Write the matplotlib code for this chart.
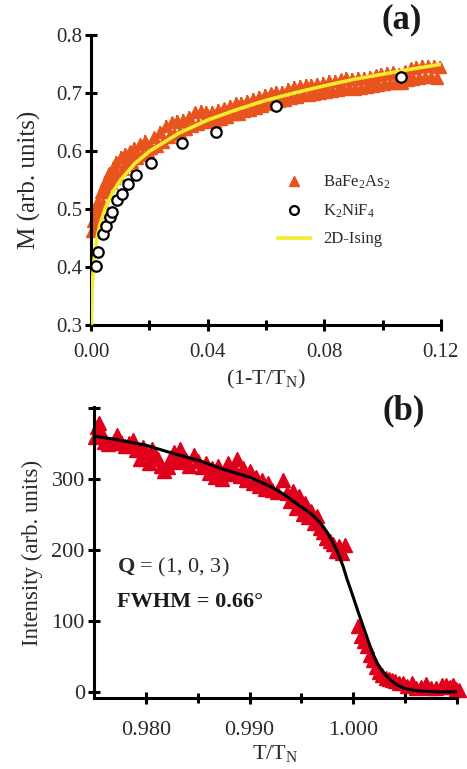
import matplotlib
matplotlib.use("Agg")
import matplotlib.pyplot as plt
from matplotlib.ticker import FixedLocator

plt.rcParams['font.family'] = ['Liberation Serif', 'DejaVu Serif']
plt.rcParams['mathtext.fontset'] = 'custom'
plt.rcParams['mathtext.rm'] = 'Liberation Serif'
plt.rcParams['mathtext.it'] = 'Liberation Serif:italic'
plt.rcParams['mathtext.bf'] = 'Liberation Serif:bold'

# ---------------- Panel (a) data ----------------
ba_x = [0.0004, 0.0008, 0.0012, 0.0016, 0.0020, 0.0025, 0.0030, 0.0035, 0.0040, 0.0045,
        0.0050, 0.0056, 0.0062, 0.0068, 0.0074, 0.0080, 0.0087, 0.0094, 0.0101, 0.0108,
        0.0116, 0.0124, 0.0132, 0.0140, 0.0149, 0.0158, 0.0167, 0.0176, 0.0186, 0.0196,
        0.0206, 0.0216, 0.0226, 0.0236, 0.0246, 0.0256, 0.0266, 0.0276, 0.0286, 0.0296,
        0.0306, 0.0316, 0.0326, 0.0336, 0.0346, 0.0356, 0.0366, 0.0376, 0.0386, 0.0396,
        0.0406, 0.0416, 0.0426, 0.0436, 0.0446, 0.0456, 0.0466, 0.0476, 0.0486, 0.0496,
        0.0506, 0.0516, 0.0526, 0.0536, 0.0546, 0.0556, 0.0566, 0.0576, 0.0586, 0.0596,
        0.0606, 0.0616, 0.0626, 0.0636, 0.0646, 0.0656, 0.0666, 0.0676, 0.0686, 0.0696,
        0.0706, 0.0716, 0.0726, 0.0736, 0.0746, 0.0756, 0.0766, 0.0776, 0.0786, 0.0796,
        0.0806, 0.0816, 0.0826, 0.0836, 0.0846, 0.0856, 0.0866, 0.0876, 0.0886, 0.0896,
        0.0906, 0.0916, 0.0926, 0.0936, 0.0946, 0.0956, 0.0966, 0.0976, 0.0986, 0.0996,
        0.1006, 0.1016, 0.1026, 0.1036, 0.1046, 0.1056, 0.1066, 0.1076, 0.1086, 0.1096,
        0.1106, 0.1116, 0.1126, 0.1136, 0.1146, 0.1156, 0.1166, 0.1176, 0.1186, 0.1196]
ba_y = [0.462, 0.480, 0.472, 0.500, 0.484, 0.514, 0.496, 0.530, 0.510, 0.542,
        0.550, 0.530, 0.562, 0.546, 0.572, 0.554, 0.582, 0.560, 0.590, 0.570,
        0.596, 0.576, 0.600, 0.582, 0.606, 0.588, 0.612, 0.594, 0.618, 0.600,
        0.606, 0.624, 0.610, 0.634, 0.616, 0.644, 0.624, 0.650, 0.630, 0.652,
        0.634, 0.654, 0.638, 0.660, 0.643, 0.667, 0.648, 0.670, 0.652, 0.668,
        0.650, 0.668, 0.653, 0.671, 0.656, 0.674, 0.660, 0.679, 0.664, 0.683,
        0.665, 0.684, 0.669, 0.687, 0.672, 0.690, 0.674, 0.694, 0.678, 0.697,
        0.681, 0.700, 0.684, 0.702, 0.686, 0.703, 0.688, 0.707, 0.692, 0.711,
        0.694, 0.713, 0.697, 0.714, 0.698, 0.715, 0.699, 0.716, 0.701, 0.718,
        0.702, 0.721, 0.704, 0.722, 0.706, 0.724, 0.708, 0.726, 0.709, 0.725,
        0.707, 0.726, 0.709, 0.727, 0.711, 0.729, 0.713, 0.731, 0.715, 0.733,
        0.716, 0.735, 0.718, 0.736, 0.717, 0.734, 0.718, 0.738, 0.723, 0.743,
        0.725, 0.745, 0.727, 0.747, 0.729, 0.748, 0.728, 0.747, 0.727, 0.745]
ba_err = 0.010

k2_x = [0.0017, 0.0025, 0.0040, 0.0051, 0.0065, 0.0071, 0.0088, 0.0105, 0.0126, 0.0154,
        0.0206, 0.0313, 0.0428, 0.0633, 0.1064]
k2_y = [0.402, 0.426, 0.458, 0.472, 0.487, 0.495, 0.516, 0.527, 0.544, 0.560,
        0.580, 0.614, 0.633, 0.679, 0.729]

ising_x = [0.00006, 0.0002, 0.0005, 0.001, 0.002, 0.003, 0.005, 0.0075, 0.010, 0.015,
           0.020, 0.030, 0.040, 0.050, 0.060, 0.070, 0.080, 0.090, 0.100, 0.110, 0.120]
ising_y = [0.300, 0.337, 0.378, 0.412, 0.450, 0.473, 0.504, 0.530, 0.550, 0.579,
           0.600, 0.631, 0.654, 0.672, 0.688, 0.701, 0.713, 0.724, 0.733, 0.742, 0.750]

a_xticks = [0.00, 0.04, 0.08, 0.12]
a_xticklabels = ['0.00', '0.04', '0.08', '0.12']
a_xminor = [0.02, 0.06, 0.10]
a_yticks = [0.3, 0.4, 0.5, 0.6, 0.7, 0.8]
a_yticklabels = ['0.3', '0.4', '0.5', '0.6', '0.7', '0.8']

# ---------------- Panel (b) data ----------------
int_x = [0.9751, 0.9753, 0.9755, 0.9757, 0.9760, 0.9764, 0.9768, 0.9772, 0.9776, 0.9780,
         0.9784, 0.9788, 0.9791, 0.9794, 0.9797, 0.9800, 0.9803, 0.9806, 0.9809, 0.9812,
         0.9815, 0.9818, 0.9821, 0.9824, 0.9827, 0.9830, 0.9833, 0.9836, 0.9839, 0.9842,
         0.9846, 0.9850, 0.9854, 0.9858, 0.9861, 0.9864, 0.9867, 0.9870, 0.9873, 0.9876,
         0.9879, 0.9882, 0.9885, 0.9888, 0.9891, 0.9894, 0.9897, 0.9900, 0.9903, 0.9906,
         0.9909, 0.9912, 0.9915, 0.9918, 0.9922, 0.9926, 0.9932, 0.9936, 0.9939, 0.9942,
         0.9945, 0.9948, 0.9951, 0.9953, 0.9956, 0.9959, 0.9962, 0.9965, 0.9968, 0.9971,
         0.9974, 0.9977, 0.9980, 0.9983, 0.9986, 0.9989, 0.9992, 1.0004, 1.0007, 1.0010,
         1.0013, 1.0016, 1.0019, 1.0022, 1.0025, 1.0028, 1.0031, 1.0034, 1.0037, 1.0040,
         1.0044, 1.0048, 1.0052, 1.0056, 1.0060, 1.0065, 1.0070, 1.0075, 1.0080, 1.0085,
         1.0089, 1.0093, 1.0096, 1.0099, 1.0102]
int_y = [358, 372, 378, 365, 352, 348, 350, 362, 352, 346,
         350, 354, 340, 328, 345, 336, 322, 342, 333, 328,
         318, 310, 316, 330, 338, 324, 342, 330, 326, 318,
         333, 325, 316, 322, 308, 315, 302, 318, 300, 312,
         322, 306, 315, 328, 304, 315, 298, 310, 294, 302,
         290, 298, 286, 294, 284, 281, 298, 280, 268, 283,
         258, 276, 250, 265, 246, 255, 238, 247, 230, 225,
         216, 212, 208, 198, 205, 195, 207, 93, 78, 72,
         65, 52, 45, 35, 28, 24, 20, 18, 16, 15,
         13, 12, 8, 12, 6, 7, 11, 5, 6, 10,
         9, 7, 10, 4, 2]
int_err = 8

fit_x = [0.9750, 0.9775, 0.9800, 0.9825, 0.9852, 0.9875, 0.9900, 0.9920, 0.9933, 0.9945,
         0.9959, 0.9968, 0.9975, 0.9980, 0.9985, 0.9990, 0.9994, 0.9999, 1.0004, 1.0009,
         1.0014, 1.0018, 1.0023, 1.0029, 1.0036, 1.0042, 1.0049, 1.0057, 1.0065, 1.0080,
         1.0100]
fit_y = [360, 354, 347, 336, 325, 313, 302, 289, 278, 265,
         251, 238, 224, 211, 196, 177, 158, 137, 115, 94,
         73, 56, 40, 27, 16, 10, 5, 2.5, 1, 0,
         0]

b_xticks = [0.980, 0.990, 1.000, 1.010]
b_xticklabels = ['0.980', '0.990', '1.000', '']
b_xminor = [0.985, 0.995, 1.005]
b_yticks = [0, 100, 200, 300, 400]
b_yticklabels = ['0', '100', '200', '300', '']

orange = '#E8541E'
yellow = '#F2EC2A'
red = '#E0001B'
txtc = '#2a2a2a'

fig = plt.figure(figsize=(4.67, 7.69), dpi=100)
ax1 = fig.add_axes([0.195, 0.577, 0.749, 0.377])
ax2 = fig.add_axes([0.201, 0.092, 0.778, 0.379])


def style(ax, fs, xpad):
    for s in ['top', 'right']:
        ax.spines[s].set_visible(False)
    for s in ['left', 'bottom']:
        ax.spines[s].set_linewidth(2.2)
        ax.spines[s].set_color('black')
    ax.tick_params(which='major', direction='inout', length=9, width=2.2,
                   labelsize=fs, labelcolor=txtc)
    ax.tick_params(which='minor', direction='inout', length=7, width=2.2)
    ax.tick_params(axis='x', which='major', pad=xpad)
    ax.tick_params(axis='y', which='major', pad=2)


# ---- Panel (a)
ax1.errorbar(ba_x, ba_y, yerr=ba_err, fmt='none', ecolor=orange, elinewidth=1.3,
             capsize=0, zorder=2, clip_on=False)
ax1.plot(ba_x, ba_y, '^', color=orange, ms=9, mec=orange, zorder=2, clip_on=False,
         label='BaFe$_2$As$_2$')
ax1.plot(k2_x, k2_y, 'o', mfc='white', mec='black', mew=1.6, ms=7.5, zorder=4,
         clip_on=False, label='K$_2$NiF$_4$')
ax1.plot(ising_x, ising_y, '-', color=yellow, lw=2.6, zorder=3, label='2D-Ising')
ax1.set_xlim(0, 0.12)
ax1.set_ylim(0.3, 0.8)
style(ax1, 15, 8.5)
ax1.xaxis.set_major_locator(FixedLocator(a_xticks))
ax1.set_xticklabels(a_xticklabels)
ax1.xaxis.set_minor_locator(FixedLocator(a_xminor))
ax1.yaxis.set_major_locator(FixedLocator(a_yticks))
ax1.set_yticklabels(a_yticklabels)
ax1.set_xlabel('(1-T/T$_\\mathrm{N}$)', fontsize=16, color=txtc, labelpad=4)
ax1.set_ylabel('M (arb. units)', fontsize=18, color=txtc, labelpad=11)
leg = ax1.legend(loc='upper left', bbox_to_anchor=(0.515, 0.545), frameon=False,
                 fontsize=12, handlelength=1.9, labelspacing=0.68, handletextpad=0.8,
                 borderaxespad=0, markerscale=0.85)
for t in leg.get_texts():
    t.set_color(txtc)
ax1.text(0.946, 1.052, '(a)', transform=ax1.transAxes, fontsize=25, fontweight='bold',
         ha='right', va='center', color='#1a1a1a')

# ---- Panel (b)
ax2.errorbar(int_x, int_y, yerr=int_err, fmt='none', ecolor=red, elinewidth=1.3,
             capsize=0, zorder=2, clip_on=False)
ax2.plot(int_x, int_y, '^', color=red, ms=9.5, mec=red, zorder=2, clip_on=False)
ax2.plot(fit_x, fit_y, '-', color='black', lw=2.2, zorder=3)
ax2.set_xlim(0.975, 1.010)
ax2.set_ylim(-9, 401)
style(ax2, 16, 12)
ax2.xaxis.set_major_locator(FixedLocator(b_xticks))
ax2.set_xticklabels(b_xticklabels)
ax2.xaxis.set_minor_locator(FixedLocator(b_xminor))
ax2.yaxis.set_major_locator(FixedLocator(b_yticks))
ax2.set_yticklabels(b_yticklabels)
ax2.set_xlabel('T/T$_\\mathrm{N}$', fontsize=16, color=txtc, labelpad=2)
ax2.set_ylabel('Intensity (arb. units)', fontsize=16.5, color=txtc, labelpad=6)
ax2.text(0.063, 0.450, '$\\mathbf{Q}$ = (1, 0, 3)', transform=ax2.transAxes, fontsize=16,
         color=txtc, ha='left', va='center')
ax2.text(0.063, 0.330, 'FWHM = 0.66°', transform=ax2.transAxes, fontsize=16,
         fontweight='bold', color='#1a1a1a', ha='left', va='center')
ax2.text(0.912, 0.985, '(b)', transform=ax2.transAxes, fontsize=25, fontweight='bold',
         ha='right', va='center', color='#1a1a1a')

fig.savefig('out.png', dpi=100)
